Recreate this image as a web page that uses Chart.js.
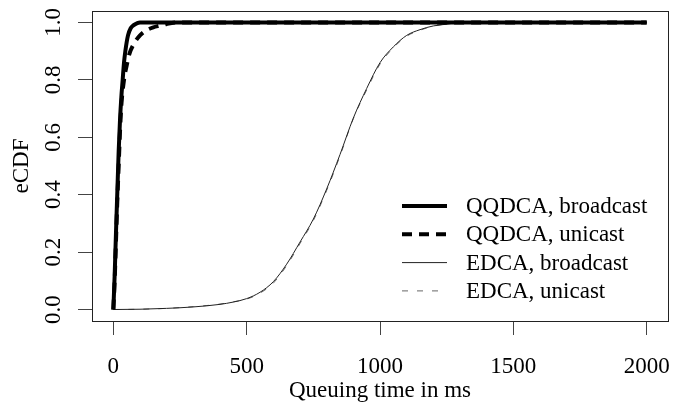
<!DOCTYPE html>
<html>
<head>
<meta charset="utf-8">
<script src="https://cdn.jsdelivr.net/npm/chart.js@4/dist/chart.umd.min.js"></script>
<style>
    html, body { margin: 0; padding: 0; background: #fff; }
    #wrap { width: 686px; height: 405px; }
</style>
</head>
<body>
<div id="wrap"><canvas id="grafico"></canvas></div>
<script>
// data (ms -> fraction)
const qqBcastX = [0, 5, 10, 15, 20, 25, 30, 35, 40, 45, 55, 65, 75, 90, 100, 2000]
const qqBcastY = [0, 0.12, 0.27, 0.41, 0.55, 0.66, 0.74, 0.8, 0.86, 0.9, 0.955, 0.98, 0.99, 0.998, 1, 1]

const qqUniX = [0, 5, 10, 15, 20, 25, 30, 40, 50, 60, 80, 100, 125, 150, 175, 200, 240, 2000]
const qqUniY = [0, 0.1, 0.24, 0.38, 0.5, 0.62, 0.71, 0.8, 0.85, 0.89, 0.93, 0.955, 0.973, 0.983, 0.989, 0.995, 1, 1]

const edcaBcastX = [0, 100, 200, 300, 400, 450, 500, 550, 600, 650, 700, 750, 800, 850, 900, 950, 1000, 1050, 1100, 1150, 1200, 1250, 1300, 2000]
const edcaBcastY = [0, 0.001, 0.004, 0.009, 0.018, 0.026, 0.038, 0.06, 0.097, 0.158, 0.235, 0.315, 0.42, 0.54, 0.667, 0.77, 0.86, 0.915, 0.955, 0.975, 0.988, 0.994, 1, 1]

const edcaUniX = [0, 100, 200, 300, 400, 450, 500, 550, 600, 650, 700, 750, 800, 850, 900, 950, 1000, 1050, 1100, 1150, 1200, 1250, 1300, 2000]
const edcaUniY = [0, 0.001, 0.004, 0.01, 0.019, 0.027, 0.036, 0.057, 0.092, 0.153, 0.23, 0.31, 0.415, 0.535, 0.665, 0.765, 0.855, 0.912, 0.952, 0.973, 0.987, 0.995, 1, 1]

const xTicks = [0, 500, 1000, 1500, 2000]
const yTicks = [0, 0.2, 0.4, 0.6, 0.8, 1.0]
const yTickLabels = ["0.0", "0.2", "0.4", "0.6", "0.8", "1.0"]

const fonte = "Liberation Serif, Times New Roman, serif"
const tamFonte = 23

function pares(xs, ys) {
    return xs.map((x, i) => ({ x: x, y: ys[i] }))
}

// box, rotated y labels and the legend, R style
const extras = {
    id: "extras",
    afterDraw(chart) {
        let ctx = chart.ctx
        let area = chart.chartArea
        ctx.save()
        ctx.strokeStyle = "#222"
        ctx.lineWidth = 1
        ctx.strokeRect(area.left + 0.5, area.top + 0.5, area.right - area.left, area.bottom - area.top)

        // y tick labels, vertical
        let ys = chart.scales.y
        ctx.fillStyle = "#000"
        ctx.font = tamFonte + "px " + fonte
        ctx.textAlign = "center"
        ctx.textBaseline = "middle"
        yTicks.forEach((v, i) => {
            let py = ys.getPixelForValue(v)
            ctx.save()
            ctx.translate(54, py)
            ctx.rotate(-Math.PI / 2)
            ctx.fillText(yTickLabels[i], 0, 0)
            ctx.restore()
        })

        // legend in bottom right corner, no frame
        let linhaY = 206
        chart.data.datasets.forEach((ds) => {
            ctx.beginPath()
            ctx.strokeStyle = ds.borderColor
            ctx.lineWidth = ds.borderWidth
            ctx.setLineDash(ds.borderDash || [])
            ctx.moveTo(402, linhaY)
            ctx.lineTo(447, linhaY)
            ctx.stroke()
            ctx.setLineDash([])
            ctx.fillStyle = "#000"
            ctx.textAlign = "left"
            ctx.fillText(ds.label, 466, linhaY + 1)
            linhaY += 28.3
        })
        ctx.restore()
    }
}

let ctxGraf = document.getElementById("grafico").getContext("2d")
new Chart(ctxGraf, {
    type: "scatter",
    data: {
        datasets: [
            {
                label: "QQDCA, broadcast",
                data: pares(qqBcastX, qqBcastY),
                borderColor: "#000",
                borderWidth: 4,
                showLine: true,
                pointRadius: 0,
                cubicInterpolationMode: "monotone"
            },
            {
                label: "QQDCA, unicast",
                data: pares(qqUniX, qqUniY),
                borderColor: "#000",
                borderWidth: 4,
                borderDash: [10, 7],
                showLine: true,
                pointRadius: 0,
                cubicInterpolationMode: "monotone"
            },
            {
                label: "EDCA, broadcast",
                data: pares(edcaBcastX, edcaBcastY),
                borderColor: "#222",
                borderWidth: 1,
                showLine: true,
                pointRadius: 0,
                cubicInterpolationMode: "monotone"
            },
            {
                label: "EDCA, unicast",
                data: pares(edcaUniX, edcaUniY),
                borderColor: "#666",
                borderWidth: 1,
                borderDash: [6, 9],
                showLine: true,
                pointRadius: 0,
                cubicInterpolationMode: "monotone"
            }
        ]
    },
    options: {
        responsive: true,
        maintainAspectRatio: false,
        animation: false,
        layout: { padding: { top: 11, right: 18, left: 0, bottom: 0 } },
        plugins: {
            legend: { display: false },
            tooltip: { enabled: false }
        },
        scales: {
            x: {
                type: "linear",
                min: -80,
                max: 2080,
                afterBuildTicks: (s) => { s.ticks = xTicks.map(v => ({ value: v })) },
                afterFit: (s) => {
                    s.height = 84
                    s.paddingLeft = 0
                    s.paddingRight = 0
                },
                grid: { drawOnChartArea: false, drawTicks: true, tickLength: 14, color: "#444" },
                border: { display: false },
                ticks: {
                    color: "#000",
                    font: { family: fonte, size: tamFonte },
                    padding: 18,
                    maxRotation: 0,
                    callback: (v) => String(v)
                },
                title: {
                    display: true,
                    text: "Queuing time in ms",
                    color: "#000",
                    font: { family: fonte, size: tamFonte },
                    padding: { top: 0, bottom: 0 }
                }
            },
            y: {
                type: "linear",
                min: -0.04,
                max: 1.04,
                afterBuildTicks: (s) => { s.ticks = yTicks.map(v => ({ value: v })) },
                afterFit: (s) => { s.width = 92 },
                grid: { drawOnChartArea: false, drawTicks: true, tickLength: 14, color: "#444" },
                border: { display: false },
                ticks: { display: false },
                title: {
                    display: true,
                    text: "eCDF",
                    color: "#000",
                    font: { family: fonte, size: tamFonte },
                    padding: { top: 8, bottom: 0 }
                }
            }
        }
    },
    plugins: [extras]
})
</script>
</body>
</html>
